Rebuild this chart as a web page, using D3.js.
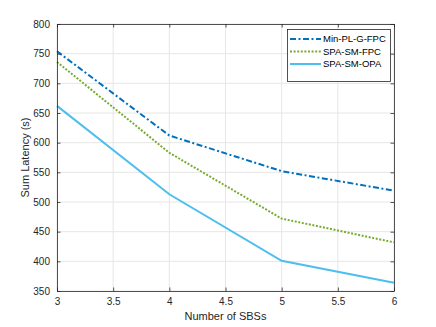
<!DOCTYPE html>
<html><head><meta charset="utf-8">
<script src="https://cdn.jsdelivr.net/npm/d3@7"></script>
<style>
html,body{margin:0;padding:0;background:#fff;}
text{font-family:"Liberation Sans",Arial,Helvetica,sans-serif;}
</style></head>
<body><svg id="c" width="436" height="327"></svg>
<script>
const xValues = [3, 4, 5, 6];
const minPLGFPC = [754, 612, 552, 519];
const spaSMFPC = [736, 583, 472, 432];
const spaSMOPA = [662, 513, 401, 364];
const seriesNames = ["Min-PL-G-FPC", "SPA-SM-FPC", "SPA-SM-OPA"];
const xTicks = [3, 3.5, 4, 4.5, 5, 5.5, 6];
const yTicks = [350, 400, 450, 500, 550, 600, 650, 700, 750, 800];
const xLabel = "Number of SBSs";
const yLabel = "Sum Latency (s)";

const series = [
  {name: seriesNames[0], values: minPLGFPC, color: "#0072BD", dash: "6,2.5,2,2.5"},
  {name: seriesNames[1], values: spaSMFPC, color: "#77AC30", dash: "2,1.6"},
  {name: seriesNames[2], values: spaSMOPA, color: "#4DBEEE", dash: null}
];

const svg = d3.select("#c");
const L = 57, R = 394, T = 24, B = 291;
const x = d3.scaleLinear().domain([3, 6]).range([L, R]);
const y = d3.scaleLinear().domain([350, 800]).range([B, T]);
const axisColor = "#262626";

// grid
const g = svg.append("g");
g.selectAll(".gx").data(xTicks).enter().append("line")
  .attr("x1", d => x(d)).attr("x2", d => x(d)).attr("y1", T).attr("y2", B)
  .attr("stroke", "#e6e6e6").attr("stroke-width", 1);
g.selectAll(".gy").data(yTicks).enter().append("line")
  .attr("y1", d => y(d)).attr("y2", d => y(d)).attr("x1", L).attr("x2", R)
  .attr("stroke", "#e6e6e6").attr("stroke-width", 1);

// lines
const line = d3.line().x((d, i) => x(xValues[i])).y(d => y(d));
series.forEach(s => {
  svg.append("path").datum(s.values).attr("d", line)
    .attr("fill", "none").attr("stroke", s.color).attr("stroke-width", 2)
    .attr("stroke-dasharray", s.dash);
});

// axes (ticks inside)
const ax = d3.axisBottom(x).tickValues(xTicks).tickSize(-3.5).tickSizeOuter(0).tickPadding(7).tickFormat(d3.format("~g"));
const axT = d3.axisTop(x).tickValues(xTicks).tickSize(-3.5).tickSizeOuter(0).tickFormat("");
const ay = d3.axisLeft(y).tickValues(yTicks).tickSize(-3.5).tickSizeOuter(0).tickPadding(7);
const ayR = d3.axisRight(y).tickValues(yTicks).tickSize(-3.5).tickSizeOuter(0).tickFormat("");
function style(sel){
  sel.selectAll("path").attr("stroke", axisColor).attr("stroke-width", 0.8);
  sel.selectAll("line").attr("stroke", axisColor).attr("stroke-width", 0.8);
  sel.selectAll("text").attr("fill", axisColor).style("font-size", "10px")
    .style("font-family", "'Liberation Sans',Arial,sans-serif");
}
svg.append("g").attr("transform", `translate(0,${B})`).call(ax).call(style);
svg.append("g").attr("transform", `translate(0,${T})`).call(axT).call(style);
svg.append("g").attr("transform", `translate(${L},0)`).call(ay).call(style);
svg.append("g").attr("transform", `translate(${R},0)`).call(ayR).call(style);

// labels
svg.append("text").attr("x", (L + R) / 2).attr("y", 320).attr("text-anchor", "middle")
  .attr("fill", axisColor).style("font-size", "11px").text(xLabel);
svg.append("text").attr("transform", `translate(29,${(T + B) / 2}) rotate(-90)`)
  .attr("text-anchor", "middle").attr("fill", axisColor).style("font-size", "11px").text(yLabel);

// legend
const lg = svg.append("g");
lg.append("rect").attr("x", 287.5).attr("y", 29.5).attr("width", 103).attr("height", 52)
  .attr("fill", "#fff").attr("stroke", axisColor).attr("stroke-width", 0.8);
series.forEach((s, i) => {
  const yy = 39 + i * 12.5;
  lg.append("line").attr("x1", 290).attr("x2", 321).attr("y1", yy).attr("y2", yy)
    .attr("stroke", s.color).attr("stroke-width", 2).attr("stroke-dasharray", s.dash);
  lg.append("text").attr("x", 323).attr("y", yy).attr("dy", "0.35em")
    .attr("fill", "#000").style("font-size", "9.5px").text(s.name);
});
</script></body></html>
